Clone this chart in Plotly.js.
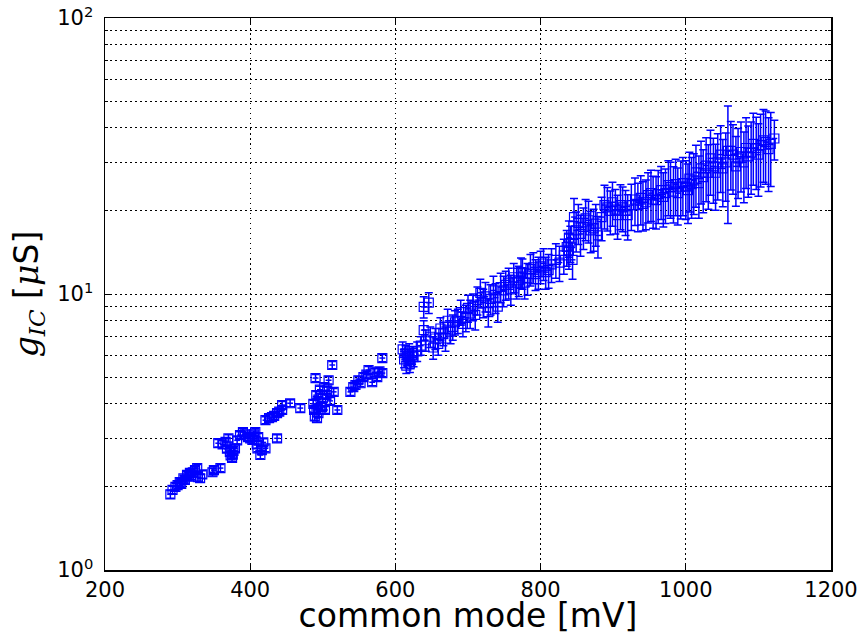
<!DOCTYPE html>
<html>
<head>
<meta charset="utf-8">
<script src="https://cdn.plot.ly/plotly-3.0.1.min.js"></script>
<style>html,body{margin:0;padding:0;background:#fff;}#chart{width:864px;height:635px;}</style>
</head>
<body>
<div id="chart"></div>
<script>
// common mode voltage [mV]
const commonMode = [
  290,293,297,300,303,305,308,310,313,315,
  317,319,321,324,327,328,331,334,348,350,
  359,356,362,366,370,368,372,373,375,376,
  377,379,382,386,390,393,397,400,403,405,
  407,411,409,410,414,416,418,421,437,421,
  426,430,433,437,440,444,444,455,469,487,
  488,489,490,491,492,493,494,496,497,499,
  500,502,503,505,506,508,510,513,515,520,
  538,542,545,549,552,556,560,563,568,571,
  575,578,582,582,610,612,614,615,617,619,
  620,621,623,625,630,635,639,646,639,642,
  648,652,655,659,662,666,669,672,676,679,
  682,686,690,693,697,700,703,707,710,713,
  717,721,724,728,731,735,738,741,745,749,
  752,756,759,763,767,770,773,775,778,782,
  786,790,793,797,800,804,807,811,815,821,
  826,832,836,839,839,841,844,846,849,852,
  855,859,862,866,869,873,876,879,884,888,
  892,896,899,903,906,910,913,917,920,925,
  930,934,938,941,945,948,952,955,959,962,
  966,969,972,976,979,983,986,989,993,996,
  1000,1003,1005,1008,1011,1014,1018,1021,1024,1028,
  1031,1034,1038,1041,1044,1048,1051,1055,1058,1062,
  1065,1069,1072,1076,1080,1083,1086,1090,1093,1097,
  1100,1103,1107,1110,1114,1117,1122
];
// g_IC [µS]
const gIC = [
  1.88,1.95,2.0,2.03,2.08,2.05,2.15,2.12,2.21,2.18,
  2.25,2.2,2.26,2.3,2.34,2.17,2.15,2.22,2.26,2.3,
  2.34,2.88,2.85,2.91,3.0,2.75,2.68,2.6,2.55,2.62,
  2.7,2.76,2.95,3.08,3.16,3.1,3.03,3.0,2.96,3.1,
  3.16,3.03,2.85,2.76,2.61,2.72,2.9,2.76,3.0,3.49,
  3.55,3.58,3.62,3.7,3.75,3.8,3.96,4.02,3.86,4.0,
  3.8,3.6,4.96,4.3,3.55,4.1,3.7,4.5,3.9,3.89,
  4.2,4.6,3.8,4.3,4.48,4.87,4.1,5.53,4.42,3.8,
  4.42,4.6,4.68,4.87,4.75,5.0,5.1,5.3,4.79,5.2,
  5.0,5.25,5.17,5.86,6.3,5.8,6.1,5.5,5.9,6.2,
  5.6,5.76,6.0,5.9,6.2,6.5,8.98,9.3,7.4,6.8,
  7.0,6.4,6.9,6.6,7.5,7.2,6.9,8.0,7.3,7.6,
  7.9,8.0,8.6,7.8,8.2,8.9,8.5,9.0,8.4,9.5,
  10.1,9.3,9.8,8.6,9.6,10.3,9.7,9.0,10.6,10.3,
  10.8,11.0,10.4,11.5,11.0,11.2,12.0,11.9,11.0,11.4,
  12.3,12.5,11.8,12.0,12.6,12.9,12.0,12.2,12.8,13.3,
  13.0,13.8,14.8,14.4,16.0,15.3,13.3,19.0,17.0,18.1,
  16.5,17.5,18.8,18.5,17.0,17.3,18.0,16.3,19.0,21.0,
  20.6,20.0,21.5,20.2,19.3,21.0,20.6,20.0,19.3,21.0,
  22.0,21.0,22.3,21.2,21.5,22.8,23.2,22.0,21.9,23.0,
  23.8,22.5,23.2,24.8,24.4,23.5,25.0,23.2,24.5,25.2,
  24.5,23.8,26.2,25.0,25.8,27.6,25.2,28.5,26.5,29.2,
  27.5,31,29,27.5,30,32,28.5,30,33,33,
  32,29,31,32.7,30,33.8,31.5,32.5,35,33.8,
  32,34.6,36,35.5,33.5,35,36.6
];
// uncertainty of g_IC [µS]
const gErr = [
  .06,.06,.06,.06,.06,.06,.06,.06,.07,.07,
  .07,.07,.07,.07,.07,.07,.07,.07,.07,.07,
  .07,.09,.09,.09,.09,.08,.08,.08,.08,.08,
  .08,.08,.09,.09,.09,.09,.09,.09,.09,.09,
  .09,.09,.09,.08,.08,.08,.09,.08,.09,.1,
  .1,.1,.1,.11,.11,.11,.12,.12,.12,.12,
  .11,.11,.15,.13,.11,.12,.11,.13,.12,.12,
  .13,.14,.11,.13,.13,.15,.12,.17,.13,.11,
  .13,.14,.14,.15,.14,.15,.15,.16,.14,.16,
  .15,.16,.16,.18,.4,.4,.4,.35,.4,.4,
  .4,.4,.45,.45,.5,.5,.8,.8,.6,.6,
  .6,.6,.6,.6,.7,.7,.7,.8,.7,.8,
  .8,.8,.9,.8,.9,1.0,1.0,1.0,1.0,1.1,
  1.2,1.1,1.2,1.0,1.2,1.3,1.2,1.1,1.3,1.3,
  1.3,1.4,1.3,1.4,1.4,1.4,1.5,1.5,1.4,1.5,
  1.6,1.6,1.5,1.6,1.7,1.7,1.6,1.7,1.8,1.9,
  1.9,2.0,2.2,2.1,2.4,2.3,2.0,3.2,2.8,3.0,
  2.8,3.0,3.2,3.2,2.9,3.0,3.1,2.8,3.4,3.8,
  3.7,3.6,3.9,3.7,3.5,3.9,3.8,3.7,3.6,4.0,
  4.3,4.2,4.5,4.3,4.4,4.7,4.9,4.7,4.7,5.0,
  5.2,5.0,5.2,5.6,5.6,5.4,5.8,5.4,5.8,6.0,
  5.9,5.8,6.4,6.2,6.4,7.0,6.4,7.3,6.8,7.6,
  7.2,8.2,7.7,7.4,8.1,8.7,7.8,8.3,15,9.2,
  9.0,8.2,8.8,9.3,8.6,9.7,9.1,9.5,10.2,9.9,
  9.4,10.2,10.6,10.5,10,10.5,6
];
// uncertainty of common mode [mV]
const cmErr = 4;

const xTicks = [200,400,600,800,1000,1200];
const yTicks = [1,10,100];
const yTickText = ['10<sup>0</sup>','10<sup>1</sup>','10<sup>2</sup>'];
const yMinor = [2,3,4,5,6,7,8,9,20,30,40,50,60,70,80,90];

const trace = {
  x: commonMode, y: gIC, type: 'scatter', mode: 'markers',
  marker: {symbol: 'square-open', size: 9, color: '#0000ff', line: {width: 1.2, color: '#0000ff'}},
  error_y: {type: 'data', array: gErr, visible: true, color: '#0000ff', thickness: 1.5, width: 4},
  error_x: {type: 'constant', value: cmErr, visible: true, color: '#0000ff', thickness: 1.5, width: 0},
  hoverinfo: 'x+y'
};

const dotted = '1.5px,3.5px';
const axisFont = {family: 'DejaVu Sans', size: 21, color: '#000'};
const serif = '<span style="font-family:\'DejaVu Serif\'">';
const layout = {
  width: 864, height: 635,
  margin: {l: 105, r: 33, t: 18, b: 65},
  paper_bgcolor: '#fff', plot_bgcolor: '#fff',
  showlegend: false,
  xaxis: {
    range: [200, 1200], tickmode: 'array', tickvals: xTicks,
    ticks: 'inside', ticklen: 6, tickwidth: 1, tickcolor: '#000',
    showline: true, linecolor: '#000', linewidth: 1.5, mirror: 'allticks',
    showgrid: true, gridcolor: '#000', griddash: dotted, gridwidth: 1,
    zeroline: false, tickfont: axisFont,
    title: {text: 'common mode [mV]', font: {family: 'DejaVu Sans', size: 33, color: '#000'}, standoff: 7}
  },
  yaxis: {
    type: 'log', range: [0, 2], tickmode: 'array', tickvals: yTicks, ticktext: yTickText,
    ticks: 'inside', ticklen: 6, tickwidth: 1, tickcolor: '#000',
    showline: true, linecolor: '#000', linewidth: 1.5, mirror: 'allticks',
    showgrid: true, gridcolor: '#000', griddash: dotted, gridwidth: 1,
    zeroline: false, tickfont: axisFont, ticklabelstandoff: 6,
    minor: {tickmode: 'array', tickvals: yMinor, ticks: 'inside', ticklen: 3, tickcolor: '#000',
            showgrid: true, gridcolor: '#000', griddash: dotted, gridwidth: 1},
    title: {text: serif + '<i>g</i></span><sub>' + serif + '<i>IC</i></span></sub> [' + serif + '<i>μ</i></span>S]',
            font: {family: 'DejaVu Sans', size: 33, color: '#000'}, standoff: 8}
  }
};

Plotly.newPlot('chart', [trace], layout, {staticPlot: true, displayModeBar: false});
</script>
</body>
</html>
